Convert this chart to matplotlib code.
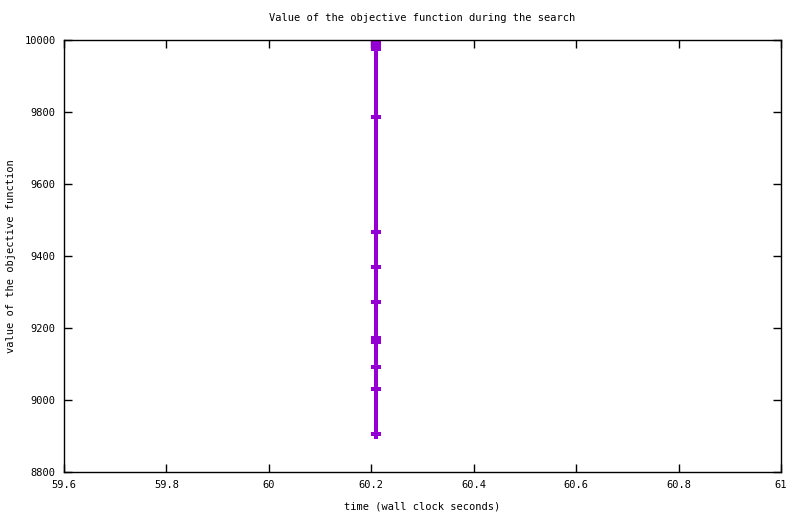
import matplotlib
matplotlib.use("Agg")
import matplotlib.pyplot as plt

times = [60.209] * 12
values = [9992, 9982, 9975, 9787, 9467, 9370, 9273, 9172, 9161, 9093, 9031, 8906]
xticks = [59.6, 59.8, 60, 60.2, 60.4, 60.6, 60.8, 61]
xticklabels = ["59.6", "59.8", "60", "60.2", "60.4", "60.6", "60.8", "61"]
yticks = [8800, 9000, 9200, 9400, 9600, 9800, 10000]

plt.rcParams['font.family'] = ['DejaVu Sans Mono']
fig = plt.figure(figsize=(8.0, 5.14), dpi=100)
ax = fig.add_axes([64/800, 1-472/514, (781-64)/800, (472-40)/514])

ax.plot(times, values, color='#9400D3', linewidth=2.9, marker='+',
        markersize=7.5, markeredgewidth=2.9, solid_capstyle='butt')

ax.set_xlim(59.6, 61)
ax.set_ylim(8800, 10000)
ax.set_xticks(xticks)
ax.set_xticklabels(xticklabels)
ax.set_yticks(yticks)
ax.tick_params(direction='in', length=6, width=1, top=True, right=True,
               labelsize=7.5, pad=6, colors='black')
for s in ax.spines.values():
    s.set_linewidth(1)
ax.set_title("Value of the objective function during the search", fontsize=7.5, pad=14)
ax.set_xlabel("time (wall clock seconds)", fontsize=7.5, labelpad=8)
ax.set_ylabel("value of the objective function", fontsize=7.5, labelpad=6)

fig.savefig("out.png", dpi=100)
